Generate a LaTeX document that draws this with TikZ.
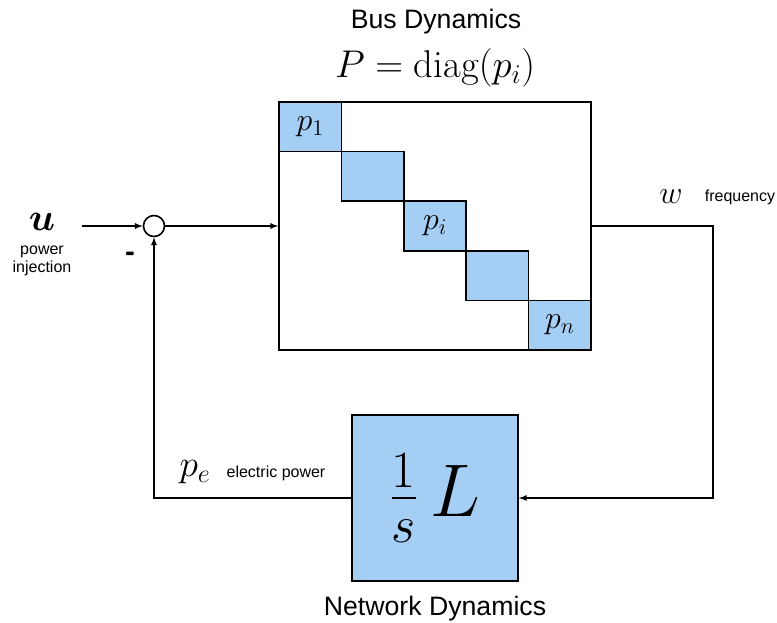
\RequirePackage{fix-cm}
\documentclass[tikz,border=0pt]{standalone}
\usepackage{amsmath}
\usepackage{fontspec}
\setsansfont{Liberation Sans}
\usepackage{tikz}
\usetikzlibrary{positioning}
\usepackage{xcolor}
\definecolor{blockblue}{RGB}{165,206,244}

\begin{document}
\begin{tikzpicture}[x=0.75pt, y=-0.75pt,
    sig/.style={->, >=latex, line width=1pt},
    cell/.style={draw, fill=blockblue, line width=1.3pt, minimum width=46.8pt, minimum height=37.2pt, inner sep=0pt, font=\fontsize{24}{26}\selectfont},
    tag/.style={font=\sffamily\fontsize{12}{13.5}\selectfont, align=center},
    title/.style={font=\sffamily\fontsize{20}{23}\selectfont}]
    \useasboundingbox (0,0) rectangle (777,623);
    % Bus dynamics
    \node[title] (bustitle) at (436,22) {Bus Dynamics};
    \node[font=\fontsize{29}{32}\selectfont] (pdiag) at (435,68) {$P=\operatorname{diag}(p_i)$};
    \node[draw, fill=white, line width=1.3pt, minimum width=234pt, minimum height=186pt] (bus) at (435,226) {};
    \foreach \k/\t in {1/{p_1},2/{},3/{p_i},4/{},5/{p_n}} {
        \node[cell] (blk\k) at ({310.2+62.4*(\k-1)}, {126.8+49.6*(\k-1)}) {$\t$};
    }

    % Network dynamics
    \node[draw, fill=blockblue, line width=1.3pt, minimum size=124.5pt, font=\fontsize{56}{60}\selectfont] (net) at (435,498) {$\frac{1}{s}\,L$};
    \node[title] (nettitle) at (435,609) {Network Dynamics};

    % Summing junction and input
    \node[draw, circle, fill=white, line width=1.2pt, minimum size=15.75pt, inner sep=0pt] (sum) at (154,226) {};
    \coordinate (uin) at (82,226);
    \node[font=\fontsize{29}{31}\selectfont] (ulab) at (42,222) {$\boldsymbol{u}$};
    \node[tag] (utag) at (42,261) {power\\injection};
    \node[font=\sffamily\bfseries\fontsize{22}{24}\selectfont] (minus) at (130,257) {-};

    % Signals
    \coordinate (wturn) at (713,226);
    \draw[sig] (uin) -- (sum);
    \draw[sig] (sum) -- (bus);
    \draw[sig] (bus.east) -- (wturn) |- (net.east);
    \draw[sig] (net.west) -| (sum.south);

    % Signal labels
    \node[font=\fontsize{24}{26}\selectfont] (wlab) at (671,197) {$w$};
    \node[tag] (wtag) at (740,197) {frequency};
    \node[font=\fontsize{28}{30}\selectfont] (pelab) at (195,472) {$p_e$};
    \node[tag] (petag) at (276,473) {electric power};
\end{tikzpicture}
\end{document}
